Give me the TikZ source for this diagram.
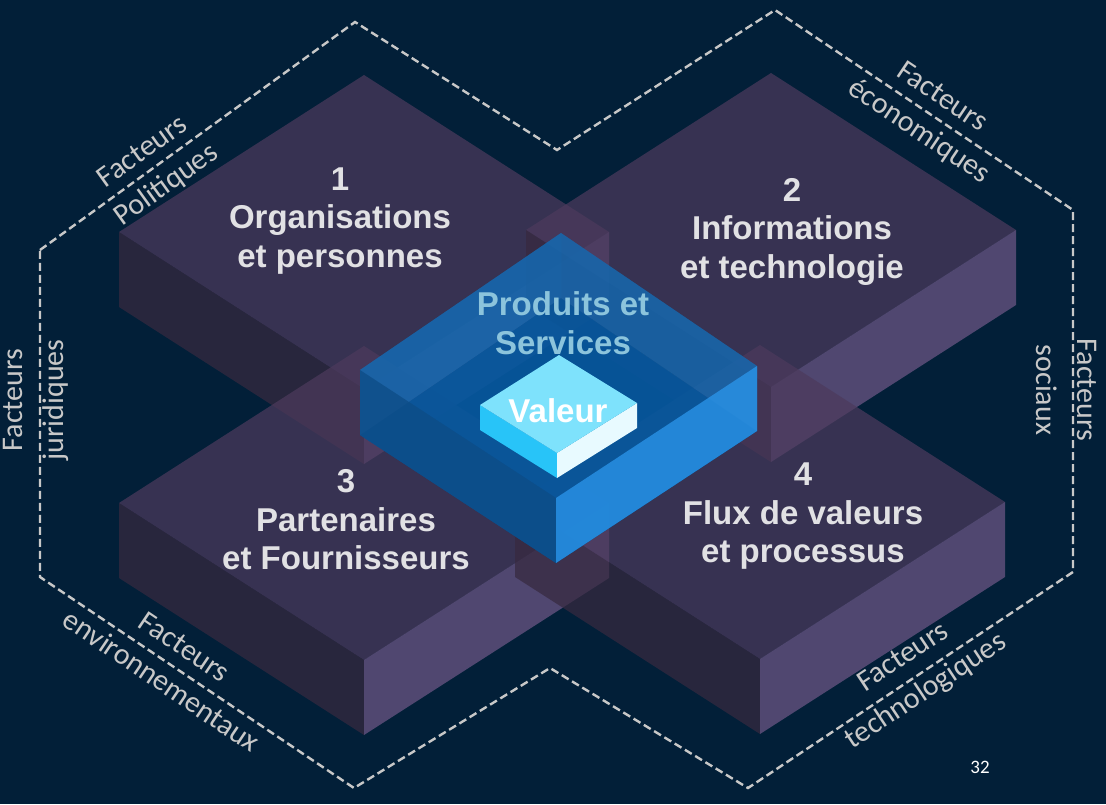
\documentclass[tikz,border=0pt]{standalone}
\usepackage{fontspec}
\setmainfont{Liberation Sans}
\newfontfamily\calibrifont{Carlito}
\definecolor{bgnavy}{RGB}{2,31,56}
\definecolor{slabtopc}{RGB}{76,58,92}
\definecolor{slableftc}{RGB}{55,41,64}
\definecolor{slabrightc}{RGB}{109,87,133}
\definecolor{dashgrey}{RGB}{200,200,200}
\definecolor{labelgrey}{RGB}{225,225,228}
\definecolor{factgrey}{RGB}{200,200,200}
\definecolor{blueback}{RGB}{25,105,175}
\definecolor{bluefloor}{RGB}{0,80,150}
\definecolor{bluetop}{RGB}{20,100,170}
\definecolor{blueleft}{RGB}{14,79,138}
\definecolor{blueright}{RGB}{40,143,226}
\definecolor{prodblue}{RGB}{140,196,220}
\definecolor{valtop}{RGB}{126,226,252}
\definecolor{valleft}{RGB}{40,196,248}
\definecolor{valright}{RGB}{232,250,255}
\begin{document}
\begin{tikzpicture}[x=1pt,y=-1pt,
  slabface/.style={fill opacity=0.73},
  outline/.style={draw=dashgrey,line width=2.4pt,dash pattern=on 8pt off 4pt,line join=miter},
  slablabel/.style={text=labelgrey,align=center,inner sep=0pt,
    font=\fontsize{33}{38.5}\selectfont\bfseries},
  prodlabel/.style={text=prodblue,align=center,inner sep=0pt,
    font=\fontsize{33}{38.5}\selectfont\bfseries},
  vallabel/.style={text=white,inner sep=0pt,font=\fontsize{33}{38.5}\selectfont\bfseries},
  factlabel/.style={text=factgrey,align=center,inner sep=0pt,
    font=\calibrifont\fontsize{30}{41}\selectfont},
  slab/.pic={
    \fill[slabface,fill=slabtopc] (0,-157) -- (245,0) -- (0,157) -- (-245,0) -- cycle;
    \fill[slabface,fill=slableftc] (-245,0) -- (0,157) -- (0,232) -- (-245,75) -- cycle;
    \fill[slabface,fill=slabrightc] (0,157) -- (245,0) -- (245,75) -- (0,232) -- cycle;
  }]
\useasboundingbox (0,0) rectangle (1106,804);
\fill[bgnavy] (0,0) rectangle (1106,804);

% dashed frame of the external factors
\coordinate (o1) at (40,250);
\coordinate (o2) at (355,22);
\coordinate (o3) at (557,150);
\coordinate (o4) at (775,10);
\coordinate (o5) at (1073,210);
\coordinate (o6) at (1073,572);
\coordinate (o7) at (748,788);
\coordinate (o8) at (550,668);
\coordinate (o9) at (354,788);
\coordinate (o10) at (40,577);
\draw[outline] (o1) -- (o2) -- (o3) -- (o4) -- (o5) -- (o6) -- (o7) -- (o8) -- (o9) -- (o10) -- cycle;

\node[factlabel,rotate=35.7] (fpol) at (155,169) {Facteurs\\Politiques};
\node[factlabel,rotate=-33.9] (feco) at (930,115) {Facteurs\\économiques};
\node[factlabel,rotate=90] (fjur) at (36,400) {Facteurs\\juridiques};
\node[factlabel,rotate=-90] (fsoc) at (1067,390) {Facteurs\\sociaux};
\node[factlabel,rotate=-34] (fenv) at (173,664) {Facteurs\\environnementaux};
\node[factlabel,rotate=33.6] (ftec) at (915,675) {Facteurs\\technologiques};

% the four translucent slabs
\pic (s1) at (364,232) {slab};
\pic (s2) at (771,230) {slab};
\pic (s3) at (364,503) {slab};
\pic (s4) at (760,502) {slab};

\node[slablabel] (t1) at (340,221) {1\\Organisations\\et personnes};
\node[slablabel] (t2) at (792,231.5) {2\\Informations\\et technologie};
\node[slablabel] (t3) at (346,520) {3\\Partenaires\\et Fournisseurs};
\node[slablabel] (t4) at (803,516.5) {4\\Flux de valeurs\\et processus};

% central blue tray
\coordinate (bt) at (561,233);
\coordinate (bl) at (360,370);
\coordinate (br) at (757,366);
\coordinate (bf) at (556,498);
\coordinate (btd) at (561,298);
\coordinate (bld) at (360,435);
\coordinate (brd) at (757,431);
\coordinate (bfd) at (556,563);
\fill[bluefloor,fill opacity=0.9] (btd) -- (brd) -- (bfd) -- (bld) -- cycle;
\fill[blueback,fill opacity=0.85] (bt) -- (bl) -- (bld) -- (btd) -- cycle;
\fill[blueback,fill opacity=0.8] (bt) -- (br) -- (brd) -- (btd) -- cycle;
\fill[bluetop,fill opacity=0.35] (bt) -- (br) -- (bf) -- (bl) -- cycle;
\fill[blueleft,fill opacity=0.85] (bl) -- (bf) -- (bfd) -- (bld) -- cycle;
\fill[blueright,fill opacity=0.88] (bf) -- (br) -- (brd) -- (bfd) -- cycle;

\node[prodlabel] (ps) at (563,323) {Produits et\\Services};

% value block
\coordinate (vt) at (559,355);
\coordinate (vl) at (480,405);
\coordinate (vr) at (637,403);
\coordinate (vf) at (557,453);
\coordinate (vld) at (480,430);
\coordinate (vrd) at (637,428);
\coordinate (vfd) at (557,478);
\fill[valleft] (vl) -- (vf) -- (vfd) -- (vld) -- cycle;
\fill[valright] (vf) -- (vr) -- (vrd) -- (vfd) -- cycle;
\fill[valtop] (vt) -- (vr) -- (vf) -- (vl) -- cycle;
\node[vallabel] (val) at (558,411) {Valeur};

\node[text=white,inner sep=0pt,font=\calibrifont\fontsize{19}{22}\selectfont] (pg) at (980,767) {32};
\end{tikzpicture}
\end{document}
